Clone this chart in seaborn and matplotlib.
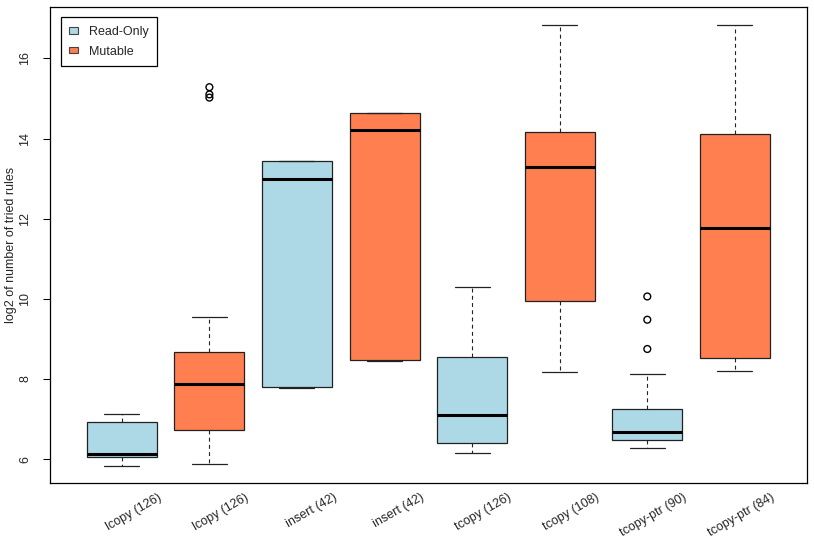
import numpy as np
import pandas as pd
import matplotlib
matplotlib.use("Agg")
import matplotlib.pyplot as plt
from matplotlib.patches import Patch
from matplotlib.transforms import ScaledTranslation
import seaborn as sns

# box labels and kind of run
labels = ["lcopy (126)", "lcopy (126)", "insert (42)", "insert (42)",
          "tcopy (126)", "tcopy (108)", "tcopy-ptr (90)", "tcopy-ptr (84)"]
modes = ["Read-Only", "Mutable", "Read-Only", "Mutable",
         "Read-Only", "Mutable", "Read-Only", "Mutable"]

# five number summaries, log2 of number of tried rules
whisk_lo = [5.84, 5.89, 7.78, 8.44, 6.15, 8.18, 6.29, 8.21]
q1 = [6.06, 6.74, 7.81, 8.47, 6.40, 9.95, 6.48, 8.53]
median = [6.12, 7.88, 12.99, 14.22, 7.10, 13.29, 6.67, 11.78]
q3 = [6.94, 8.68, 13.44, 14.64, 8.54, 14.17, 7.26, 14.12]
whisk_hi = [7.13, 9.56, 13.44, 14.64, 10.30, 16.84, 8.12, 16.84]

# outliers (box index, value)
out_box = [1, 1, 1, 6, 6, 6]
out_val = [15.02, 15.10, 15.28, 8.75, 9.48, 10.06]

colors = {"Read-Only": "lightblue", "Mutable": "coral"}

# long table, one row per summary value
rows = []
for i in range(len(labels)):
    for v in (whisk_lo[i], q1[i], median[i], q3[i], whisk_hi[i]):
        rows.append({"slot": i, "mode": modes[i], "value": v})
df = pd.DataFrame(rows)

sns.set_style("white")
plt.rcParams["font.family"] = ["Liberation Sans", "DejaVu Sans"]

fig = plt.figure(figsize=(8.14, 5.41), dpi=100)
W, H = 814, 541
left, right, top, bottom = 50, 806.7, 7, 483.3
ax = fig.add_axes([left / W, 1 - bottom / H, (right - left) / W,
                   (bottom - top) / H])

sns.boxplot(data=df, x="slot", y="value", hue="mode",
            hue_order=["Read-Only", "Mutable"], palette=colors,
            dodge=False, whis=np.inf, width=0.8, saturation=1,
            linecolor="#222222", linewidth=0.9, legend=False,
            medianprops={"linewidth": 2.2, "color": "black"},
            whiskerprops={"linestyle": (0, (3.5, 3)), "linewidth": 0.8},
            capprops={"linewidth": 0.9},
            ax=ax)

ax.scatter(out_box, out_val, s=24, facecolors="none", edgecolors="black",
           linewidths=1.0, zorder=4)

ax.set_xlim(-0.82, 7.82)
ax.set_ylim(5.40, 17.28)
ax.set_yticks([6, 8, 10, 12, 14, 16])
ax.set_yticklabels(["6", "8", "10", "12", "14", "16"], rotation=90,
                   va="center")
ax.tick_params(axis="y", length=5.3, width=0.75, pad=8, labelsize=9,
               left=True, color="black")

ax.set_xticks(range(len(labels)))
ax.set_xticklabels(labels, rotation=30, ha="right", va="center",
                   rotation_mode="anchor", fontsize=9)
ax.tick_params(axis="x", length=0, pad=0)
shift = ScaledTranslation(0.387, -0.134, fig.dpi_scale_trans)
for lab in ax.get_xticklabels():
    lab.set_transform(lab.get_transform() + shift)

ax.set_xlabel("")
ax.set_ylabel("log2 of number of tried rules", fontsize=9)
ax.yaxis.set_label_coords(-0.043, 0.5)

for sp in ax.spines.values():
    sp.set_visible(True)
    sp.set_color("black")
    sp.set_linewidth(0.9)

handles = [Patch(facecolor=colors[m], edgecolor="#444444", linewidth=0.8,
                 label=m) for m in ["Read-Only", "Mutable"]]
leg = ax.legend(handles=handles, loc="upper left",
                bbox_to_anchor=(10.7 / (right - left),
                                1 - 10.3 / (bottom - top)),
                borderaxespad=0, fancybox=False, framealpha=1,
                edgecolor="black", fontsize=9, handlelength=0.65,
                handleheight=0.4, handletextpad=0.9, labelspacing=0.6,
                borderpad=0.7)
leg.get_frame().set_linewidth(0.9)

fig.savefig("out.png", dpi=100)
